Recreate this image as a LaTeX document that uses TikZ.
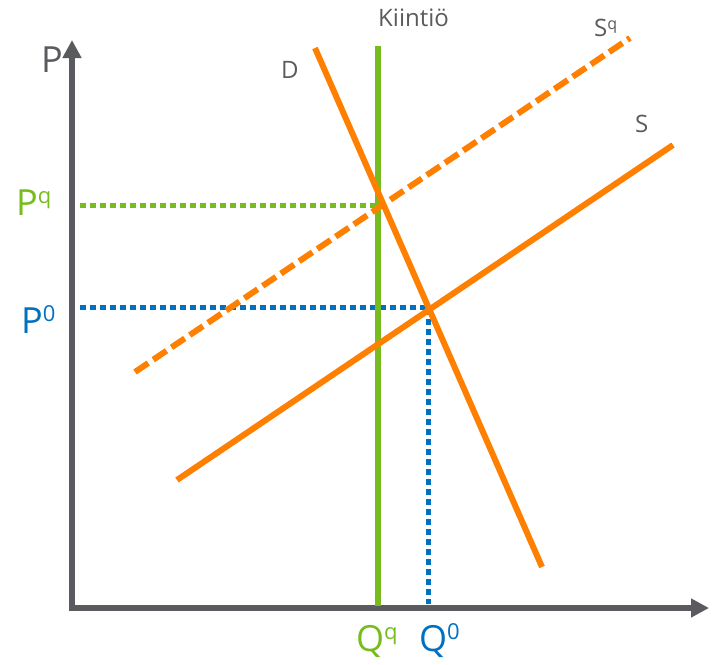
\documentclass[tikz,border=0pt]{standalone}
\usepackage{fontspec}
\setmainfont{Open Sans}
\usetikzlibrary{arrows.meta}
\definecolor{axgray}{HTML}{595B5E}
\definecolor{orng}{HTML}{FF8000}
\definecolor{grn}{HTML}{77BC1F}
\definecolor{blu}{HTML}{0070C0}
\newcommand{\supq}[1]{\raisebox{0.33em}{\fontsize{22}{22}\selectfont #1}}
\newcommand{\supsmall}[1]{\raisebox{0.3em}{\fontsize{16}{16}\selectfont #1}}
\begin{document}
\begin{tikzpicture}[x=1pt,y=-1pt,
  axis/.style={draw=axgray,line width=6pt,-{Triangle[length=18pt,width=18pt]}},
  curve/.style={draw=orng,line width=6pt},
  quota/.style={draw=grn,line width=6pt},
  guide/.style={line width=5pt,dash pattern=on 6pt off 4pt},
  biglab/.style={font=\fontsize{36}{36}\selectfont,inner sep=0pt},
  smlab/.style={font=\fontsize{24}{24}\selectfont,inner sep=0pt,text=axgray}]
\useasboundingbox (0,0) rectangle (712,664);
% axes
\coordinate (O) at (72,611);
\coordinate (Ytop) at (72,40);
\coordinate (Xend) at (709,608);
\draw[axis] (72,611) -- (Ytop);
\draw[axis] (69,608) -- (Xend);
% guides
\coordinate (PqL) at (80,205);
\coordinate (PqR) at (378,205);
\coordinate (P0L) at (80,307);
\coordinate (E0) at (428,307);
\coordinate (Q0B) at (428,604);
\draw[guide,draw=grn] (PqL) -- (PqR);
\draw[guide,draw=blu] (P0L) -- (E0) -- (Q0B);
% quota
\coordinate (Kt) at (378,46);
\coordinate (Kb) at (378,606);
\draw[quota] (Kt) -- (Kb);
% curves
\coordinate (Dt) at (315,48);
\coordinate (Db) at (542,567);
\coordinate (Sa) at (177,480);
\coordinate (Sb) at (673,145);
\coordinate (Sqa) at (135,372);
\coordinate (Sqb) at (630,38);
\draw[curve] (Sa) -- (Sb);
\draw[curve,dash pattern=on 16pt off 6pt] (Sqa) -- (Sqb);
\draw[curve] (Dt) -- (Db);
% labels
\node[biglab,text=axgray,anchor=south west] (P) at (41,73) {P};
\node[biglab,text=grn,anchor=south west] (Pq) at (16,216) {P\supq{q}};
\node[biglab,text=blu,anchor=south west] (P0) at (21,334) {P\supq{0}};
\node[biglab,text=grn,anchor=south west] (Qq) at (356,658) {Q\supq{q}};
\node[biglab,text=blu,anchor=south west] (Q0) at (419,658) {Q\supq{0}};
\node[smlab,anchor=south west] (Kii) at (378,27) {Kiintiö};
\node[smlab,anchor=south west] (D) at (281,79) {D};
\node[smlab,anchor=south west] (Sq) at (594,37) {S\supsmall{q}};
\node[smlab,anchor=south west] (S) at (635,133) {S};
\end{tikzpicture}
\end{document}
